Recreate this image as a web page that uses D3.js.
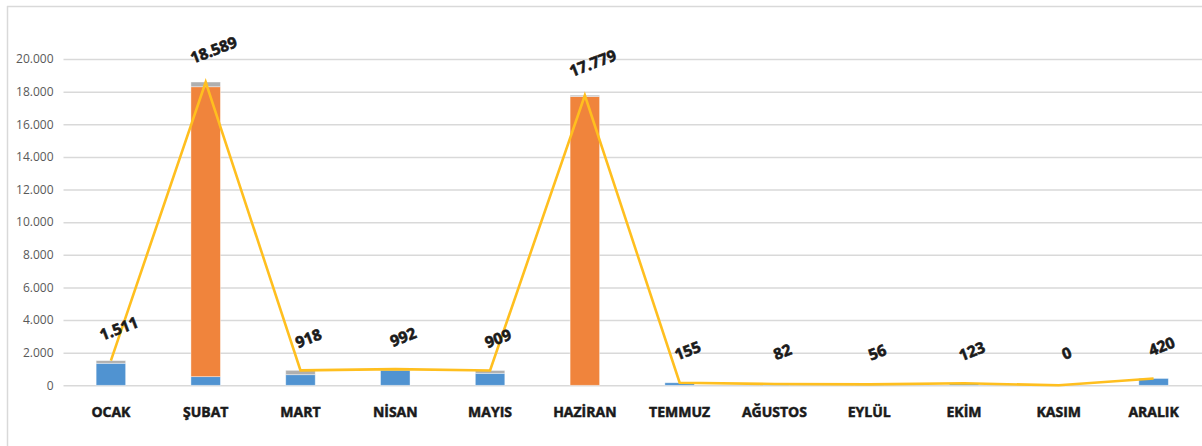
<!DOCTYPE html>
<html>
<head>
<meta charset="utf-8">
<script src="https://cdn.jsdelivr.net/npm/d3@7"></script>
<style>
  body { margin: 0; background: #fff; }
  svg { display: block; }
</style>
</head>
<body>
<svg id="chart" width="1202" height="446"></svg>
<script>
// months and stacked parts
var months = ["OCAK", "ŞUBAT", "MART", "NİSAN", "MAYIS", "HAZİRAN", "TEMMUZ", "AĞUSTOS", "EYLÜL", "EKİM", "KASIM", "ARALIK"];
var blueVals = [1350, 530, 650, 930, 735, 0, 155, 82, 56, 123, 0, 420];
var orangeVals = [0, 17770, 0, 0, 0, 17699, 0, 0, 0, 0, 0, 0];
var grayVals = [161, 289, 268, 62, 174, 80, 0, 0, 0, 0, 0, 0];
var totals = [1511, 18589, 918, 992, 909, 17779, 155, 82, 56, 123, 0, 420];
var yTicks = [0, 2000, 4000, 6000, 8000, 10000, 12000, 14000, 16000, 18000, 20000];

var svg = d3.select("#chart");
var fmt = function(v) { return d3.format(",")(v).replace(/,/g, "."); };

// outer frame of the chart (only top and left show)
svg.append("line").attr("x1", 7).attr("x2", 1202).attr("y1", 6.5).attr("y2", 6.5)
  .attr("stroke", "#d9d9d9").attr("stroke-width", 1.5);
svg.append("line").attr("x1", 7.5).attr("x2", 7.5).attr("y1", 6).attr("y2", 446)
  .attr("stroke", "#d9d9d9").attr("stroke-width", 1.5);

var x = d3.scaleBand().domain(months).range([63.5, 1201]).padding(0);
var y = d3.scaleLinear().domain([0, 20000]).range([385.3, 59]);
var barW = 29.5;

// grid + y labels
var yAxis = d3.axisLeft(y).tickValues(yTicks).tickSize(-(1202 - 63.5)).tickPadding(10).tickFormat(fmt);
var gy = svg.append("g").attr("transform", "translate(63.5,0)").call(yAxis);
gy.select(".domain").remove();
gy.selectAll(".tick line").attr("stroke", "#d9d9d9").attr("stroke-width", 1.5);
gy.selectAll(".tick text").attr("fill", "#595959")
  .style("font-family", "'Open Sans', sans-serif").style("font-size", "12px");

// stacked bars
var rows = months.map(function(m, i) {
  return { month: m, blue: blueVals[i], orange: orangeVals[i], gray: grayVals[i] };
});
var stack = d3.stack().keys(["blue", "orange", "gray"]);
var colors = { blue: "#5093d1", orange: "#f0843c", gray: "#afafaf" };

svg.append("g").selectAll("g")
  .data(stack(rows))
  .enter().append("g")
    .attr("fill", function(s) { return colors[s.key]; })
  .selectAll("rect")
  .data(function(s) { return s; })
  .enter().append("rect")
    .attr("x", function(d) { return x(d.data.month) + x.bandwidth() / 2 - barW / 2; })
    .attr("width", barW)
    .attr("y", function(d) { return y(d[1]); })
    .attr("height", function(d) { return Math.max(0, y(d[0]) - y(d[1])); })
    .attr("stroke", "#ffffff").attr("stroke-opacity", 0.5).attr("stroke-width", 0.8);

// total line
var line = d3.line()
  .x(function(d, i) { return x(months[i]) + x.bandwidth() / 2; })
  .y(function(d) { return y(d); });

svg.append("path")
  .datum(totals)
  .attr("d", line)
  .attr("fill", "none")
  .attr("stroke", "#ffbf1f")
  .attr("stroke-width", 2.6)
  .attr("stroke-linejoin", "miter");

// data labels, tilted
svg.append("g").selectAll("text")
  .data(totals)
  .enter().append("text")
    .attr("transform", function(d, i) {
      var cx = x(months[i]) + x.bandwidth() / 2 + 8;
      var cy = y(d) - 32;
      return "translate(" + cx + "," + cy + ") rotate(-21)";
    })
    .attr("text-anchor", "middle")
    .attr("dy", "0.35em")
    .style("font-family", "'Open Sans', sans-serif")
    .style("font-size", "15.5px")
    .style("font-weight", "bold")
    .attr("fill", "#1a1a1a")
    .attr("stroke", "#1a1a1a").attr("stroke-width", 0.6)
    .text(fmt);

// month labels
svg.append("g").selectAll("text")
  .data(months)
  .enter().append("text")
    .attr("x", function(d) { return x(d) + x.bandwidth() / 2; })
    .attr("y", 416.5)
    .attr("text-anchor", "middle")
    .style("font-family", "'Open Sans', sans-serif")
    .style("font-size", "14px")
    .style("font-weight", "bold")
    .attr("fill", "#1a1a1a")
    .attr("stroke", "#1a1a1a").attr("stroke-width", 0.5)
    .text(function(d) { return d; });
</script>
</body>
</html>
